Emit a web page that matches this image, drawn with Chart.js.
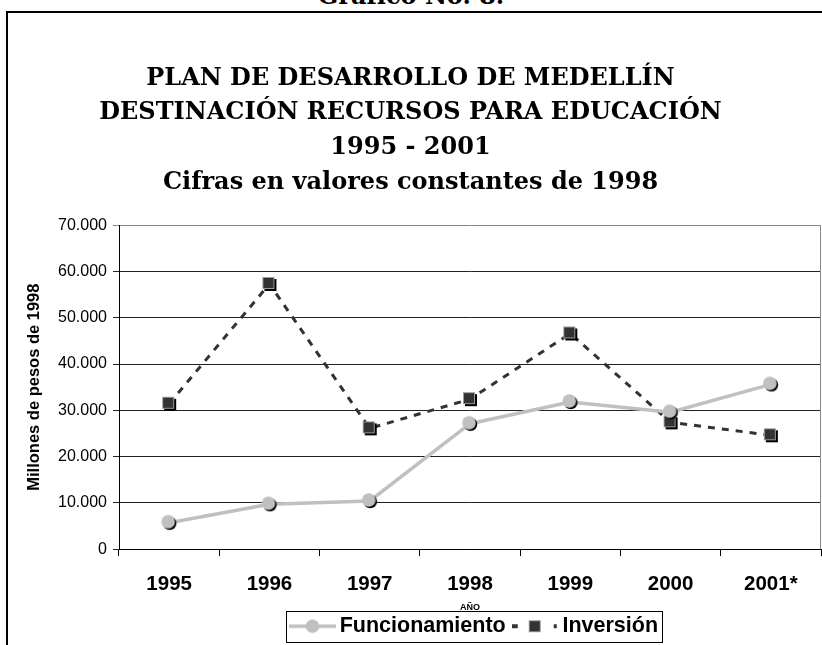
<!DOCTYPE html>
<html lang="es">
<head>
    <meta charset="UTF-8">
    <title>Destinación recursos para educación</title>
    <style>
        body {
            margin: 0;
            padding: 0;
            width: 822px;
            height: 645px;
            overflow: hidden;
            background: #fff;
            position: relative;
        }
        #grafico {
            position: absolute;
            left: 0;
            top: 0;
        }
        .marco {
            position: absolute;
            left: 6px;
            top: 11px;
            width: 900px;
            height: 700px;
            border: 2px solid #000;
            pointer-events: none;
        }
        .numero {
            position: absolute;
            left: 0;
            width: 822px;
            top: -19px;
            text-align: center;
            font: bold 24px "DejaVu Serif", serif;
            color: #000;
        }
    </style>
</head>
<body>
    <div class="numero">Gráfico No. 8.</div>
    <canvas id="grafico" width="822" height="645"></canvas>
    <div class="marco"></div>

    <script src="https://cdn.jsdelivr.net/npm/chart.js"></script>
    <script>
        // Datos (millones de pesos de 1998)
        const anios = ['1995', '1996', '1997', '1998', '1999', '2000', '2001*'];
        const funcionamiento = [5700, 9700, 10400, 27100, 31800, 29600, 35600];
        const inversion = [31400, 57300, 26100, 32400, 46600, 27400, 24600];
        const etiquetasY = ['0', '10.000', '20.000', '30.000', '40.000', '50.000', '60.000', '70.000'];

        const titulo = [
            'PLAN DE DESARROLLO DE MEDELLÍN',
            'DESTINACIÓN RECURSOS PARA EDUCACIÓN',
            '1995 - 2001',
            'Cifras en valores constantes de 1998'
        ];

        // marcadores con sombra, como en el original
        function circulo() {
            const c = document.createElement('canvas');
            c.width = 18; c.height = 18;
            const g = c.getContext('2d');
            g.fillStyle = '#000';
            g.beginPath(); g.arc(9.5, 9.5, 6.8, 0, Math.PI * 2); g.fill();
            g.fillStyle = '#c0c0c0';
            g.beginPath(); g.arc(8, 8, 6.8, 0, Math.PI * 2); g.fill();
            return c;
        }

        function cuadro() {
            const c = document.createElement('canvas');
            c.width = 16; c.height = 16;
            const g = c.getContext('2d');
            g.fillStyle = '#000';
            g.fillRect(3, 3, 12, 12);
            g.fillStyle = '#999';
            g.fillRect(1, 1, 12, 12);
            g.fillStyle = '#333';
            g.fillRect(2, 2, 10, 10);
            return c;
        }

        function leyendaFunc() {
            const c = document.createElement('canvas');
            c.width = 47; c.height = 18;
            const g = c.getContext('2d');
            g.strokeStyle = '#c0c0c0';
            g.lineWidth = 3.5;
            g.beginPath(); g.moveTo(0, 9); g.lineTo(47, 9); g.stroke();
            g.fillStyle = '#c0c0c0';
            g.beginPath(); g.arc(23.5, 9, 6.8, 0, Math.PI * 2); g.fill();
            return c;
        }

        function leyendaInv() {
            const c = document.createElement('canvas');
            c.width = 47; c.height = 18;
            const g = c.getContext('2d');
            g.fillStyle = '#333';
            g.fillRect(0, 7, 6, 4);
            g.fillRect(42, 7, 3, 4);
            g.fillStyle = '#999';
            g.fillRect(17, 3, 12, 12);
            g.fillStyle = '#333';
            g.fillRect(18, 4, 10, 10);
            return c;
        }

        // la leyenda del original queda un poco a la derecha
        const correrLeyenda = {
            id: 'correrLeyenda',
            afterLayout(chart) {
                chart.legend.left += 7;
                chart.legend.right += 7;
            }
        };

        const marcoLeyenda = {
            id: 'marcoLeyenda',
            afterDraw(chart) {
                const cajas = chart.legend.legendHitBoxes;
                if (!cajas || !cajas.length) return;
                const g = chart.ctx;
                const x0 = cajas[0].left - 10;
                const ult = cajas[cajas.length - 1];
                const x1 = ult.left + ult.width + 4;
                const yc = cajas[0].top + cajas[0].height / 2;
                g.save();
                g.strokeStyle = '#000';
                g.lineWidth = 1;
                g.strokeRect(Math.round(x0) + 0.5, Math.round(yc - 15) + 0.5, Math.round(x1 - x0), 31);
                g.restore();
            }
        };

        const bordeArea = {
            id: 'bordeArea',
            beforeDatasetsDraw(chart) {
                const a = chart.chartArea;
                const g = chart.ctx;
                g.save();
                g.strokeStyle = '#888';
                g.lineWidth = 1;
                g.beginPath();
                g.moveTo(a.right - 0.5, a.top);
                g.lineTo(a.right - 0.5, a.bottom);
                g.stroke();
                g.restore();
            }
        };

        const ctx = document.getElementById('grafico').getContext('2d');
        new Chart(ctx, {
            type: 'line',
            data: {
                labels: anios,
                datasets: [
                    {
                        label: 'Funcionamiento',
                        data: funcionamiento,
                        borderColor: '#c0c0c0',
                        borderWidth: 3.5,
                        pointStyle: circulo(),
                        tension: 0
                    },
                    {
                        label: 'Inversión',
                        data: inversion,
                        borderColor: '#333',
                        borderWidth: 3,
                        borderDash: [7, 7],
                        pointStyle: cuadro(),
                        tension: 0
                    }
                ]
            },
            options: {
                responsive: false,
                animation: false,
                events: [],
                layout: {
                    autoPadding: false,
                    padding: { left: 0, right: 1, top: 0, bottom: -2 }
                },
                plugins: {
                    title: {
                        display: true,
                        text: titulo,
                        color: '#000',
                        font: { family: 'DejaVu Serif', size: 24, weight: 'bold', lineHeight: 1.45 },
                        padding: { top: 61, bottom: 25 }
                    },
                    legend: {
                        display: true,
                        position: 'bottom',
                        fullSize: false,
                        labels: {
                            usePointStyle: true,
                            pointStyleWidth: 33,
                            color: '#000',
                            padding: 13,
                            font: { family: 'Liberation Sans', size: 21.5, weight: 'bold' },
                            generateLabels() {
                                return [
                                    { text: 'Funcionamiento', pointStyle: leyendaFunc(), fillStyle: '#c0c0c0', strokeStyle: '#c0c0c0', lineWidth: 0, datasetIndex: 0 },
                                    { text: 'Inversión', pointStyle: leyendaInv(), fillStyle: '#333', strokeStyle: '#333', lineWidth: 0, datasetIndex: 1 }
                                ];
                            }
                        }
                    },
                    tooltip: { enabled: false }
                },
                scales: {
                    x: {
                        offset: true,
                        afterFit(scale) { scale.paddingLeft = 0; scale.paddingRight = 0; },
                        grid: {
                            offset: true,
                            drawOnChartArea: false,
                            color: '#000',
                            tickLength: 7
                        },
                        border: { color: '#000', width: 1 },
                        ticks: {
                            color: '#000',
                            padding: 16,
                            maxRotation: 0,
                            font: { family: 'Liberation Sans', size: 20.5, weight: 'bold' }
                        },
                        title: {
                            display: true,
                            text: 'AÑO',
                            color: '#000',
                            font: { family: 'Liberation Sans', size: 9, weight: 'bold' },
                            padding: { top: -11, bottom: -10 }
                        }
                    },
                    y: {
                        min: 0,
                        max: 70000,
                        afterFit(scale) { scale.width = 119; },
                        grid: {
                            color: (c) => (c.tick && c.tick.value === 70000 ? '#888' : '#222'),
                            lineWidth: 1,
                            tickLength: 6
                        },
                        border: { color: '#000', width: 1 },
                        ticks: {
                            stepSize: 10000,
                            color: '#000',
                            padding: 6,
                            font: { family: 'Liberation Sans', size: 16 },
                            callback: (v, i) => etiquetasY[i]
                        },
                        title: {
                            display: true,
                            text: 'Millones de pesos de 1998',
                            color: '#000',
                            font: { family: 'Liberation Sans', size: 16.5, weight: 'bold' },
                            padding: { top: 25, bottom: 0 }
                        }
                    }
                }
            },
            plugins: [correrLeyenda, marcoLeyenda, bordeArea]
        });
    </script>
</body>
</html>
